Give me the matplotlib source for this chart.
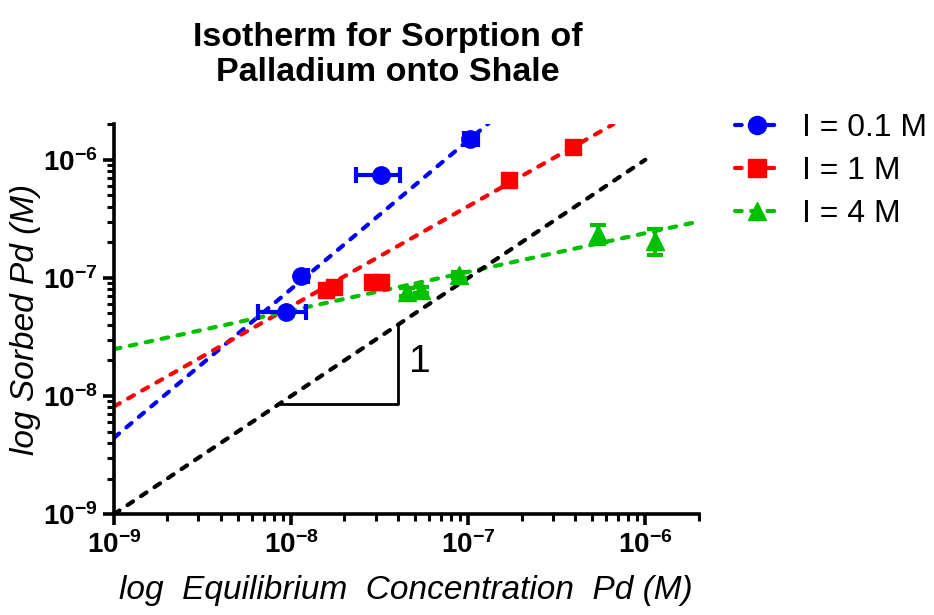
import matplotlib
matplotlib.use('Agg')
import matplotlib.pyplot as plt
from matplotlib.lines import Line2D
from matplotlib.ticker import LogLocator, NullFormatter

plt.rcParams['font.family'] = ['Liberation Sans', 'DejaVu Sans']
plt.rcParams['mathtext.fontset'] = 'custom'
plt.rcParams['mathtext.rm'] = 'Liberation Sans'
plt.rcParams['mathtext.bf'] = 'Liberation Sans:bold'
plt.rcParams['mathtext.it'] = 'Liberation Sans:italic'

# data (mol/L)
labels = ['I = 0.1 M', 'I = 1 M', 'I = 4 M']
colors = ['#0000FF', '#FF0000', '#00C000']
markers = ['o', 's', '^']

blue_x = [9.4e-9, 1.14e-8, 3.2e-8, 1.03e-7]
blue_y = [5.1e-8, 1.03e-7, 7.5e-7, 1.5e-6]
blue_xerr_lo = [2.9e-9, 0.0, 0.87e-8, 0.08e-7]
blue_xerr_hi = [2.8e-9, 0.1e-8, 0.9e-8, 0.1e-7]

red_x = [1.58e-8, 1.75e-8, 2.85e-8, 3.24e-8, 1.69e-7, 3.9e-7]
red_y = [7.9e-8, 8.4e-8, 9.25e-8, 9.2e-8, 6.8e-7, 1.28e-6]

green_x = [4.5e-8, 5.4e-8, 8.9e-8, 5.4e-7, 1.14e-6]
green_y = [7.6e-8, 7.9e-8, 1.06e-7, 2.37e-7, 2.07e-7]
green_yerr = [0.6e-8, 0.5e-8, 0.6e-8, 4.5e-8, 5.0e-8]

# fitted isotherm lines (end points)
fit_x = [[1e-9, 1.31e-7], [1e-9, 6.6e-7], [1e-9, 2.0e-6]]
fit_y = [[4.43e-9, 2.05e-6], [8.15e-9, 2.0e-6], [2.49e-8, 3.0e-7]]
unity_x = [1e-9, 1e-6]
unity_y = [1e-9, 1e-6]

# slope-one triangle
tri_x = [8.5e-9, 4.0e-8, 4.0e-8]
tri_y = [8.5e-9, 8.5e-9, 4.0e-8]

ticks = [1e-9, 1e-8, 1e-7, 1e-6]
tick_labels = [r'$\mathbf{10^{-9}}$', r'$\mathbf{10^{-8}}$',
               r'$\mathbf{10^{-7}}$', r'$\mathbf{10^{-6}}$']

fig = plt.figure(figsize=(9.34, 6.15), dpi=100)
ax = fig.add_axes([0.122, 0.164, 0.626, 0.634])

dash = (1.6, 2.3)
lw = 3.0

for fx, fy, c in zip(fit_x, fit_y, colors):
    ax.plot(fx, fy, color=c, lw=lw, dashes=dash, dash_capstyle='round', zorder=2)
ax.plot(unity_x, unity_y, color='black', lw=lw, dashes=dash, dash_capstyle='round', zorder=2)

ax.plot(tri_x, tri_y, color='black', lw=2.0, zorder=2)
ax.text(5.3e-8, 1.95e-8, '1', fontsize=28, ha='center', va='center')

ax.errorbar(blue_x, blue_y, xerr=[blue_xerr_lo, blue_xerr_hi], fmt='o', color=colors[0],
            ms=12.5, elinewidth=3.0, capsize=5.5, capthick=3.0, zorder=4)
ax.plot(red_x, red_y, 's', color=colors[1], ms=12, zorder=4)
ax.errorbar(green_x, green_y, yerr=green_yerr, fmt='^', color=colors[2],
            ms=12.5, elinewidth=3.0, capsize=5.5, capthick=3.0, zorder=4)

ax.set_xscale('log')
ax.set_yscale('log')
ax.set_xlim(1e-9, 2e-6)
ax.set_ylim(1e-9, 2e-6)

ax.set_xticks(ticks)
ax.set_xticklabels(tick_labels, fontsize=20)
ax.set_yticks(ticks)
ax.set_yticklabels(tick_labels, fontsize=20)
ax.xaxis.set_minor_locator(LogLocator(base=10, subs=range(2, 10), numticks=20))
ax.yaxis.set_minor_locator(LogLocator(base=10, subs=range(2, 10), numticks=20))
ax.xaxis.set_minor_formatter(NullFormatter())
ax.yaxis.set_minor_formatter(NullFormatter())

for side in ['top', 'right']:
    ax.spines[side].set_visible(False)
for side in ['left', 'bottom']:
    ax.spines[side].set_linewidth(2.6)
ax.tick_params(which='major', length=8, width=2.6, direction='out', pad=4)
ax.tick_params(which='minor', length=5, width=2.2, direction='out')

ax.set_xlabel('log  Equilibrium  Concentration  Pd (M)', fontsize=24, style='italic', labelpad=12)
ax.set_ylabel('log Sorbed Pd (M)', fontsize=24, style='italic')
ax.yaxis.set_label_coords(-0.124, 0.5)

fig.text(0.415, 0.911, 'Isotherm for Sorption of\nPalladium onto Shale', fontsize=24.5,
         fontweight='bold', ha='center', va='center', linespacing=1.15)

handles = [Line2D([], [], color=c, marker=m, ms=13, lw=lw, dashes=dash, dash_capstyle='round')
           for c, m in zip(colors, markers)]
fig.legend(handles, labels, loc='upper left', bbox_to_anchor=(0.787, 0.816), frameon=False,
           fontsize=23, handlelength=1.4, handletextpad=0.7, labelspacing=0.4,
           borderpad=0, borderaxespad=0)

fig.savefig('out.png', dpi=100)
